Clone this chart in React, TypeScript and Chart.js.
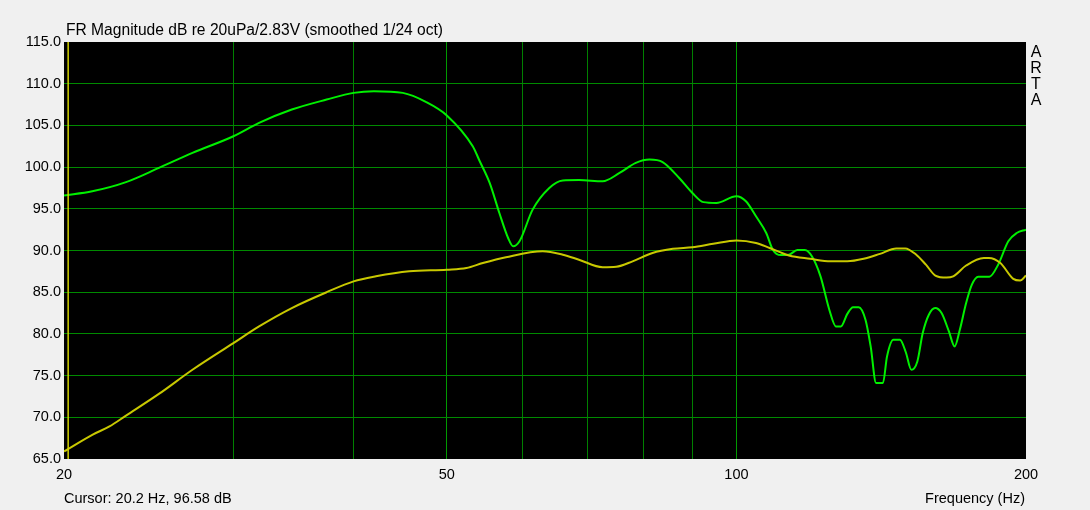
import React, { useEffect, useRef } from "react";
import { Chart, registerables } from "chart.js";

Chart.register(...registerables);

// Green response curve
const greenFreq = [20, 21.4, 23.2, 25.1, 27.2, 30, 31.9, 34.5, 37.5, 40, 42, 45, 47.6, 50, 53.2, 54.1, 55.4, 56.7, 57.9, 58.6, 59.5, 61.4, 63.9, 66.0, 68.6, 72.6, 75.6, 78.6, 81.2, 83.8, 87.2, 90, 92.4, 95.3, 100, 102.3, 104.8, 107.4, 109.1, 111.2, 113.4, 115.7, 117.8, 119.8, 122.3, 124.9, 126.9, 128.4, 130.4, 132.2, 134.0, 136.2, 137.9, 139.7, 142.0, 143.4, 145.6, 147.9, 150.0, 152.0, 154.2, 156.2, 158.5, 160.9, 163.4, 166.3, 168.6, 170.7, 173.3, 175.7, 178.4, 183.2, 187.1, 191.7, 195.6, 200];
const greenDb = [96.6, 97.1, 98.2, 99.9, 101.7, 103.7, 105.3, 106.9, 108.1, 108.9, 109.1, 108.9, 107.8, 106.2, 102.5, 100.7, 98.1, 94.5, 91.5, 90.5, 91.1, 94.9, 97.5, 98.4, 98.45, 98.3, 99.3, 100.5, 100.9, 100.6, 98.7, 96.9, 95.8, 95.7, 96.5, 95.9, 94.1, 92.1, 90.1, 89.45, 89.5, 90.05, 90.05, 89.3, 86.9, 82.9, 80.9, 80.9, 82.4, 83.2, 83.2, 81.7, 78.5, 74.1, 74.1, 77.3, 79.3, 79.3, 77.8, 75.7, 76.7, 80.1, 82.3, 83.1, 82.5, 80.3, 78.5, 80.5, 83.7, 85.9, 86.85, 86.85, 88.3, 91.1, 92.1, 92.5];

// Yellow response curve
const yellowFreq = [20, 21.4, 22.3, 23.2, 25.1, 27.2, 30, 31.9, 34.5, 37.5, 40, 42.2, 45.7, 50, 52.4, 54.5, 57.6, 62.9, 66, 68.6, 72.6, 75.0, 78.0, 81.8, 85.9, 90, 94.6, 100, 104.8, 108.3, 113.4, 119.3, 125.3, 130.4, 135.6, 141.0, 146.6, 149.8, 153.8, 157.4, 161.0, 165.4, 168, 173.3, 180.8, 183, 188.1, 194.0, 197.2, 200];
const yellowDb = [65.9, 67.9, 68.9, 70.2, 72.8, 75.7, 78.9, 80.9, 83.1, 85.0, 86.3, 86.9, 87.5, 87.7, 87.9, 88.5, 89.2, 89.9, 89.5, 88.9, 88.0, 88.05, 88.7, 89.7, 90.2, 90.4, 90.8, 91.2, 90.9, 90.3, 89.4, 89.0, 88.7, 88.7, 89.0, 89.6, 90.25, 90.25, 89.5, 88.3, 87.0, 86.75, 86.9, 88.2, 89.1, 89.1, 88.5, 86.6, 86.4, 87.0];

// Cursor
const cursorFreq = 20.2;
const cursorDb = 96.58;

// Axes
const xTickValues = [20, 30, 40, 50, 60, 70, 80, 90, 100, 200];
const xLabeled = [20, 50, 100, 200];
const yMin = 65;
const yMax = 115;
const yStep = 5;

const titleText = "FR Magnitude dB re 20uPa/2.83V (smoothed 1/24 oct)";
const xAxisTitle = "Frequency (Hz)";
const sideText = ["A", "R", "T", "A"];

const FONT = '"Liberation Sans", Arial, sans-serif';

export default function App() {
  const ref = useRef<HTMLCanvasElement | null>(null);

  useEffect(() => {
    const canvas = ref.current;
    if (!canvas) return;

    const bgPlugin = {
      id: "bgPlugin",
      beforeDraw(chart: any) {
        const { ctx, chartArea } = chart;
        ctx.save();
        ctx.fillStyle = "#f0f0f0";
        ctx.fillRect(0, 0, chart.width, chart.height);
        ctx.fillStyle = "#000000";
        ctx.fillRect(chartArea.left, chartArea.top, chartArea.right - chartArea.left, chartArea.bottom - chartArea.top);
        ctx.restore();
      },
      afterDraw(chart: any) {
        const { ctx, chartArea } = chart;
        ctx.save();
        ctx.fillStyle = "#000000";
        ctx.textBaseline = "alphabetic";
        ctx.textAlign = "left";
        ctx.font = `15.6px ${FONT}`;
        ctx.fillText(titleText, chartArea.left + 2, 35);
        ctx.font = `14.5px ${FONT}`;
        ctx.fillText(`Cursor: ${cursorFreq} Hz, ${cursorDb.toFixed(2)} dB`, chartArea.left, 503);
        ctx.textAlign = "right";
        ctx.fillText(xAxisTitle, chartArea.right - 1, 503);
        ctx.textAlign = "center";
        ctx.font = `16px ${FONT}`;
        sideText.forEach((s, i) => {
          ctx.fillText(s, chartArea.right + 10, 57 + i * 16);
        });
        ctx.restore();
      },
    };

    const chart = new Chart(canvas, {
      type: "line",
      data: {
        datasets: [
          {
            label: "cursor",
            data: [
              { x: cursorFreq, y: yMin },
              { x: cursorFreq, y: yMax },
            ],
            borderColor: "#d0d000",
            borderWidth: 1.5,
            pointRadius: 0,
            tension: 0,
          },
          {
            label: "yellow",
            data: yellowFreq.map((f, i) => ({ x: f, y: yellowDb[i] })),
            borderColor: "#c8c800",
            borderWidth: 2,
            pointRadius: 0,
            cubicInterpolationMode: "monotone",
          },
          {
            label: "green",
            data: greenFreq.map((f, i) => ({ x: f, y: greenDb[i] })),
            borderColor: "#00f000",
            borderWidth: 2,
            pointRadius: 0,
            cubicInterpolationMode: "monotone",
          },
        ],
      },
      options: {
        animation: false,
        responsive: false,
        maintainAspectRatio: false,
        events: [],
        layout: { padding: { left: 0, right: 64, top: 42, bottom: 0 } },
        plugins: {
          legend: { display: false },
          tooltip: { enabled: false },
          title: { display: false },
        },
        scales: {
          x: {
            type: "logarithmic",
            min: 20,
            max: 200,
            afterBuildTicks: (scale: any) => {
              scale.ticks = xTickValues.map((v) => ({ value: v }));
            },
            afterFit: (scale: any) => {
              scale.height = 51;
            },
            ticks: {
              autoSkip: false,
              maxRotation: 0,
              minRotation: 0,
              padding: 7,
              color: "#000000",
              font: { family: FONT, size: 14.5 },
              callback: (v: any) => (xLabeled.includes(Number(v)) ? String(v) : ""),
            },
            grid: {
              drawTicks: false,
              color: (ctx: any) => {
                const v = ctx.tick && ctx.tick.value;
                if (v === 20 || v === 200) return "rgba(0,0,0,0)";
                if (v === 50 || v === 100) return "#009a00";
                return "#008000";
              },
              lineWidth: 1,
            },
            border: { display: false },
          },
          y: {
            type: "linear",
            min: yMin,
            max: yMax,
            afterFit: (scale: any) => {
              scale.width = 64;
            },
            ticks: {
              stepSize: yStep,
              padding: 3,
              color: "#000000",
              font: { family: FONT, size: 14.5 },
              callback: (v: any) => Number(v).toFixed(1),
            },
            grid: {
              drawTicks: false,
              color: (ctx: any) => {
                const v = ctx.tick && ctx.tick.value;
                if (v === yMin || v === yMax) return "rgba(0,0,0,0)";
                return "#008a00";
              },
              lineWidth: 1,
            },
            border: { display: false },
          },
        },
      },
      plugins: [bgPlugin],
    });

    return () => {
      chart.destroy();
    };
  }, []);

  return (
    <div style={{ position: "fixed", left: 0, top: 0, width: 1090, height: 510, background: "#f0f0f0" }}>
      <canvas ref={ref} width={1090} height={510} style={{ display: "block", width: 1090, height: 510 }} />
    </div>
  );
}
